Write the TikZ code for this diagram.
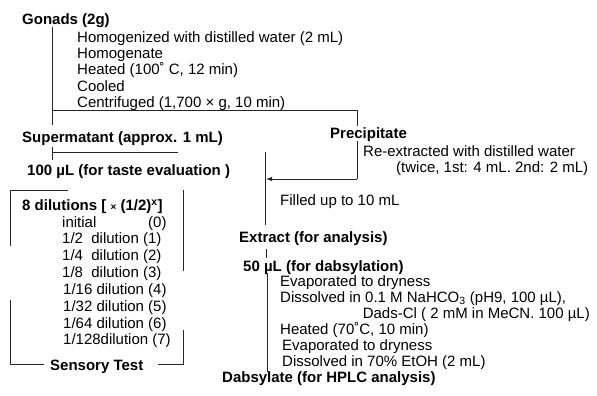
\documentclass[tikz,border=0pt]{standalone}
\usepackage{fontspec}
\setmainfont{Liberation Sans}
\usetikzlibrary{arrows.meta}
\begin{document}
\begin{tikzpicture}[x=1pt,y=-1pt,
  txt/.style={anchor=west,inner sep=0pt,text height=10.5pt,text depth=0pt,font=\fontsize{15}{16}\selectfont},
  bt/.style={txt,font=\fontsize{15}{16}\selectfont\bfseries},
  ln/.style={line width=0.9pt,black!85},
  arr/.style={ln,-{Latex[length=6pt,width=4.5pt]}}]
\useasboundingbox (0,0) rectangle (597,396);
% left column
\node[bt] (gon) at (22,19) {Gonads (2g)};
\node[txt] (s1) at (77,37) {Homogenized with distilled water (2 mL)};
\node[txt] (s2) at (77,53) {Homogenate};
\node[txt] (s3) at (77,69) {Heated (100˚ C, 12 min)};
\node[txt] (s4) at (77,86) {Cooled};
\node[txt] (s5) at (77,102) {Centrifuged (1,700 × g, 10 min)};
\node[bt] (sup) at (22,137) {Supermatant (approx. 1 mL)};
\node[bt] (taste) at (27,170) {100 µL (for taste evaluation )};
% dilutions
\node[bt] (dil) at (22,205) {8 dilutions [ {\fontsize{10}{10}\selectfont×} (1/2)\textsuperscript{x}]};
\node[txt] (r0) at (62,222) {initial};
\node[txt] (r0b) at (148,222) {(0)};
\node[txt] (r1) at (62,238) {1/2\ \ dilution (1)};
\node[txt] (r2) at (62,255) {1/4\ \ dilution (2)};
\node[txt] (r3) at (62,272) {1/8\ \ dilution (3)};
\node[txt] (r4) at (63,289) {1/16 dilution (4)};
\node[txt] (r5) at (63,306) {1/32 dilution (5)};
\node[txt] (r6) at (63,323) {1/64 dilution (6)};
\node[txt] (r7) at (63,339) {1/128dilution (7)};
\node[bt] (sens) at (50,365) {Sensory Test};
% right column
\node[bt] (prec) at (330,133) {Precipitate};
\node[txt] (re1) at (363,151) {Re-extracted with distilled water};
\node[txt] (re2) at (396,167) {(twice, 1st: 4 mL. 2nd: 2 mL)};
\node[txt] (fill) at (280,200) {Filled up to 10 mL};
\node[bt] (ext) at (239,237) {Extract (for analysis)};
\node[bt] (d50) at (243,266) {50 µL (for dabsylation)};
\node[txt] (d1) at (280,281) {Evaporated to dryness};
\node[txt] (d2) at (280,297) {Dissolved in 0.1 M NaHCO\textsubscript{3} (pH9, 100 µL),};
\node[txt,anchor=east] (d3) at (590,313) {Dads-Cl ( 2 mM in MeCN. 100 µL)};
\node[txt] (d4) at (280,329) {Heated (70˚C, 10 min)};
\node[txt] (d5) at (282,345) {Evaporated to dryness};
\node[txt] (d6) at (282,361) {Dissolved in 70\% EtOH (2 mL)};
\node[bt] (dabs) at (222,377) {Dabsylate (for HPLC analysis)};
% coordinates
\coordinate (g1) at (52,27);
\coordinate (g2) at (52,125);
\coordinate (g3) at (52,147);
\coordinate (g4) at (52,160);
\coordinate (c1) at (52,110);
\coordinate (c2) at (357,110);
\coordinate (c3) at (357,126);
\coordinate (c4) at (357,141);
\coordinate (c5) at (357,179);
\coordinate (c6) at (266,179);
\coordinate (v1) at (265,152);
\coordinate (v2) at (265,225);
\coordinate (h1) at (52,152);
\coordinate (h2) at (178,152);
\coordinate (e1) at (266,249);
\coordinate (e2) at (266,258);
\coordinate (f1) at (267,273);
\coordinate (f2) at (267,372);
% connectors
\draw[ln] (g1) -- (g2);
\draw[ln] (g3) -- (g4);
\draw[ln] (c1) -- (c2) -- (c3);
\draw[ln] (c4) -- (c5);
\draw[arr] (c5) -- (c6);
\draw[ln] (v1) -- (v2);
\draw[ln] (h1) -- (h2);
\draw[ln] (e1) -- (e2);
\draw[ln] (f1) -- (f2);
% sensory box
\coordinate (b1) at (68,190);
\coordinate (b2) at (10,190);
\coordinate (b3) at (10,246);
\coordinate (b4) at (183,190);
\coordinate (b5) at (183,271);
\coordinate (b6) at (10,300);
\coordinate (b7) at (10,364);
\coordinate (b8) at (44,364);
\coordinate (b9) at (158,364);
\coordinate (b10) at (183,364);
\coordinate (b11) at (183,330);
\draw[ln] (b1) -- (b2) -- (b3);
\draw[ln] (b4) -- (b5);
\draw[ln] (b6) -- (b7) -- (b8);
\draw[ln] (b9) -- (b10) -- (b11);
\end{tikzpicture}
\end{document}
